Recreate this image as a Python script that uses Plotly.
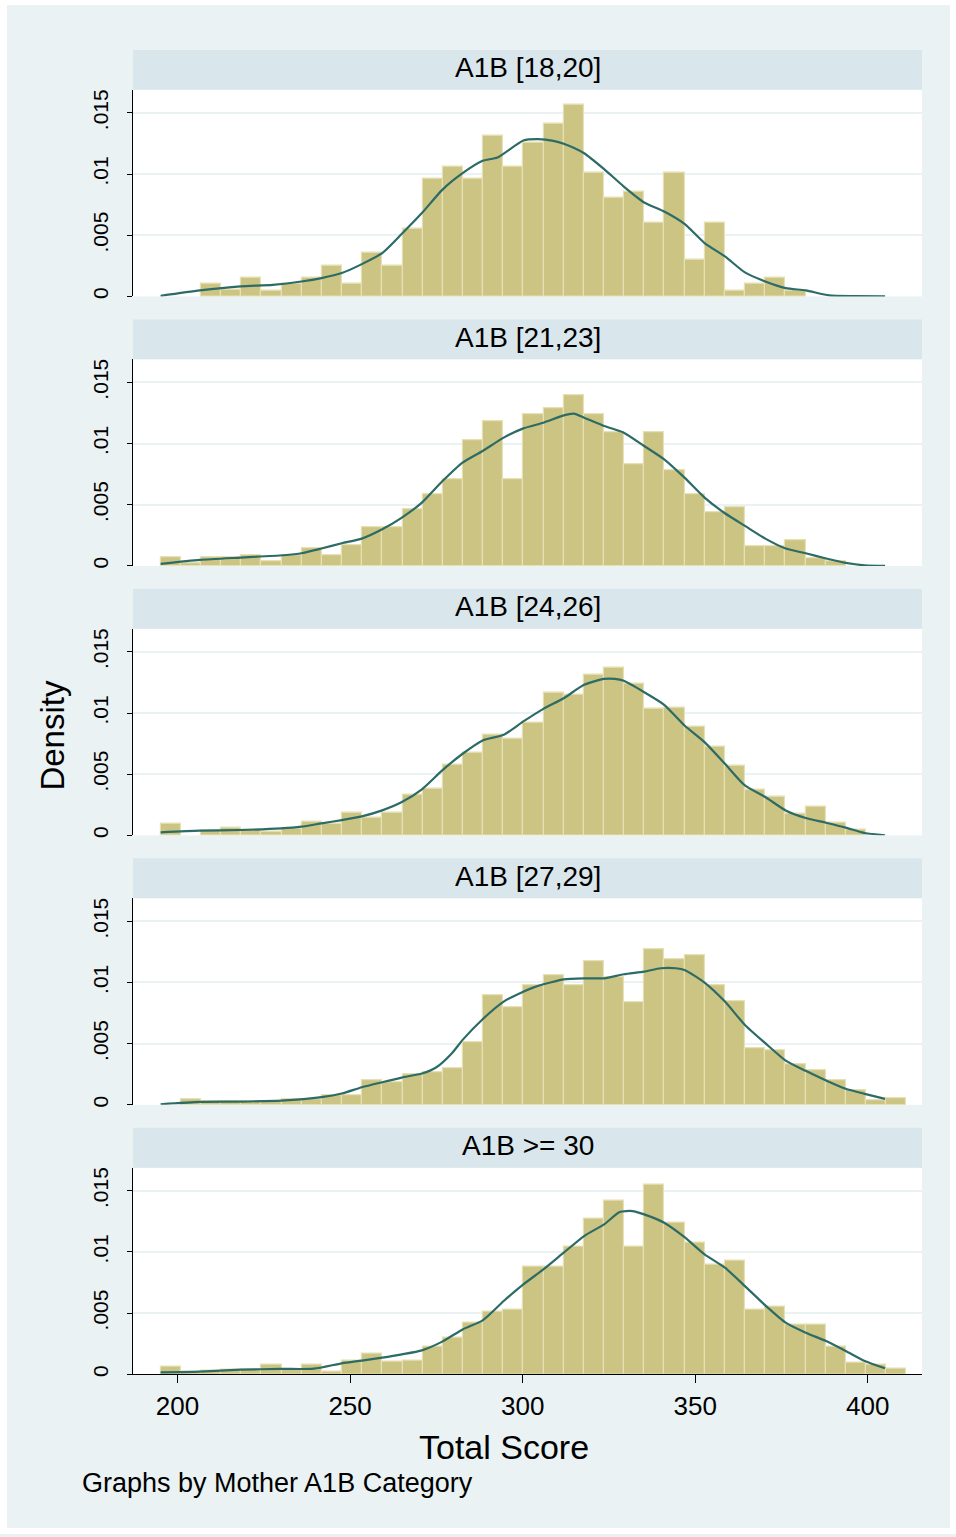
import plotly.graph_objects as go

W, H = 956, 1537

# ---------------- data ----------------
bin_start = 195.13
bin_width = 5.838
n_bins = 37

panel_titles = ["A1B [18,20]", "A1B [21,23]", "A1B [24,26]", "A1B [27,29]", "A1B >= 30"]

dens_1 = [0, 0, 0.00103, 0.00052, 0.00152, 0.00049, 0.00103, 0.00152, 0.00253, 0.00103,
          0.00354, 0.00253, 0.00553, 0.00958, 0.01056, 0.00958, 0.01309, 0.01056, 0.01258,
          0.01413, 0.01565, 0.01007, 0.00806, 0.00857, 0.00604, 0.01007, 0.00302, 0.00604,
          0.00049, 0.00103, 0.00152, 0.00049, 0, 0, 0, 0, 0]
dens_2 = [0.00071, 0.00019, 0.00071, 0.00071, 0.00087, 0.00038, 0.00087, 0.00142, 0.00087,
          0.00171, 0.00316, 0.00316, 0.00463, 0.00583, 0.00705, 0.01023, 0.01184, 0.00705,
          0.01236, 0.01290, 0.01396, 0.01236, 0.01094, 0.00827, 0.01094, 0.00778, 0.00583,
          0.00441, 0.00476, 0.00158, 0.00158, 0.00212, 0.00065, 0.00038, 0, 0, 0]
dens_3 = [0.00093, 0, 0.00038, 0.00065, 0.00049, 0.00033, 0.00054, 0.00109, 0.00093, 0.00185,
          0.00144, 0.00185, 0.00332, 0.00381, 0.00580, 0.00675, 0.00819, 0.00789, 0.00923,
          0.01162, 0.01146, 0.01315, 0.01369, 0.01241, 0.01032, 0.01040, 0.00885, 0.00727,
          0.00569, 0.00370, 0.00318, 0.00174, 0.00237, 0.00103, 0.00044, 0, 0]
dens_4 = [0, 0.00049, 0.00027, 0.00027, 0.00027, 0.00027, 0.00049, 0.00049, 0.00082, 0.00082,
          0.00199, 0.00182, 0.00250, 0.00267, 0.00299, 0.00512, 0.00893, 0.00795, 0.00974,
          0.01056, 0.00974, 0.01173, 0.01040, 0.00841, 0.01268, 0.01190, 0.01219, 0.00974,
          0.00844, 0.00460, 0.00444, 0.00332, 0.00283, 0.00199, 0.00120, 0.00038, 0.00052]
dens_5 = [0.00060, 0.00019, 0.00027, 0.00038, 0.00038, 0.00076, 0.00038, 0.00076, 0.00019,
          0.00114, 0.00166, 0.00101, 0.00112, 0.00223, 0.00297, 0.00425, 0.00512, 0.00531,
          0.00879, 0.00879, 0.01040, 0.01274, 0.01421, 0.01040, 0.01546, 0.01239, 0.01072,
          0.00893, 0.00928, 0.00531, 0.00550, 0.00403, 0.00403, 0.00223, 0.00093, 0.00076,
          0.00044]

kde_x_1 = [195.1, 206.5, 218.3, 227.6, 235.9, 241.7, 247.6, 253.4, 259.3, 265.0, 270.8, 276.7,
           282.6, 288.4, 292.7, 300.2, 304.5, 308.9, 311.9, 317.8, 323.6, 329.3, 335.2, 341.0,
           346.9, 352.7, 358.6, 364.4, 370.3, 376.2, 382.0, 388.8, 396.1, 405.0]
kde_y_1 = [0.00005, 0.00049, 0.00082, 0.00095, 0.00122, 0.00150, 0.00191, 0.00264, 0.00354,
           0.00512, 0.00681, 0.00871, 0.01007, 0.01108, 0.01135, 0.01274, 0.01285, 0.01271,
           0.01247, 0.01170, 0.01040, 0.00898, 0.00768, 0.00694, 0.00593, 0.00436, 0.00327,
           0.00196, 0.00122, 0.00068, 0.00049, 0.00008, 0.00002, 0.00001]

kde_x_2 = [195.1, 206.5, 218.3, 230.6, 235.9, 241.7, 247.6, 253.4, 259.3, 265.0, 270.8, 276.7,
           282.6, 288.4, 294.5, 300.2, 306.0, 311.9, 314.8, 317.8, 323.6, 329.3, 335.2, 341.0,
           346.9, 352.7, 358.6, 364.4, 370.3, 376.2, 382.0, 387.9, 393.6, 399.1, 405.0]
kde_y_2 = [0.00016, 0.00049, 0.00068, 0.00087, 0.00103, 0.00142, 0.00185, 0.00223, 0.00299,
           0.00395, 0.00517, 0.00691, 0.00844, 0.00939, 0.01048, 0.01124, 0.01170, 0.01230,
           0.01244, 0.01211, 0.01143, 0.01089, 0.00980, 0.00871, 0.00721, 0.00558, 0.00430,
           0.00327, 0.00223, 0.00142, 0.00103, 0.00060, 0.00024, 0.00005, 0.00001]

kde_x_3 = [195.1, 206.5, 218.3, 230.0, 235.9, 241.7, 247.6, 253.4, 259.3, 265.0, 270.8, 276.7,
           282.6, 288.4, 294.5, 300.2, 306.0, 311.9, 317.8, 323.6, 326.7, 329.3, 335.2, 341.0,
           346.9, 352.7, 358.6, 364.4, 370.3, 376.2, 382.0, 387.9, 393.6, 399.1, 405.0]
kde_y_3 = [0.00024, 0.00038, 0.00044, 0.00057, 0.00071, 0.00098, 0.00125, 0.00155, 0.00204,
           0.00272, 0.00376, 0.00531, 0.00667, 0.00776, 0.00822, 0.00931, 0.01034, 0.01121,
           0.01230, 0.01279, 0.01279, 0.01263, 0.01170, 0.01067, 0.00898, 0.00762, 0.00585,
           0.00408, 0.00313, 0.00204, 0.00142, 0.00103, 0.00063, 0.00019, 0.00001]

kde_x_4 = [195.1, 206.5, 218.3, 230.0, 241.7, 247.6, 253.4, 259.3, 265.0, 270.8, 274.9, 279.5,
           282.6, 288.4, 294.5, 298.6, 303.0, 306.0, 311.9, 317.8, 323.6, 329.3, 335.2, 340.0,
           344.4, 346.9, 352.7, 358.6, 364.4, 370.3, 376.2, 382.0, 387.9, 393.6, 399.1, 405.0]
kde_y_4 = [0.00005, 0.00024, 0.00027, 0.00035, 0.00063, 0.00093, 0.00144, 0.00185, 0.00223,
           0.00256, 0.00305, 0.00422, 0.00531, 0.00700, 0.00844, 0.00904, 0.00958, 0.00985,
           0.01026, 0.01034, 0.01034, 0.01067, 0.01089, 0.01116, 0.01116, 0.01102, 0.00999,
           0.00844, 0.00653, 0.00504, 0.00362, 0.00278, 0.00199, 0.00131, 0.00090, 0.00049]

kde_x_5 = [195.1, 206.5, 218.3, 230.0, 239.5, 247.6, 253.4, 259.3, 265.0, 270.8, 276.7, 282.6,
           288.4, 294.5, 300.2, 306.0, 311.9, 317.8, 323.6, 328.1, 331.8, 335.2, 341.0, 346.9,
           352.7, 358.6, 364.4, 370.3, 376.2, 382.0, 387.9, 393.6, 399.1, 405.0]
kde_y_5 = [0.00016, 0.00022, 0.00038, 0.00044, 0.00046, 0.00090, 0.00112, 0.00136, 0.00163,
           0.00196, 0.00267, 0.00367, 0.00441, 0.00599, 0.00735, 0.00857, 0.00994, 0.01130,
           0.01225, 0.01326, 0.01334, 0.01307, 0.01239, 0.01121, 0.00980, 0.00871, 0.00721,
           0.00563, 0.00422, 0.00340, 0.00272, 0.00191, 0.00109, 0.00049]

x_ticks = [200, 250, 300, 350, 400]
y_ticks = [0, 0.005, 0.01, 0.015]
y_tick_text = ["0", ".005", ".01", ".015"]

densities = [dens_1, dens_2, dens_3, dens_4, dens_5]
kde_xs = [kde_x_1, kde_x_2, kde_x_3, kde_x_4, kde_x_5]
kde_ys = [kde_y_1, kde_y_2, kde_y_3, kde_y_4, kde_y_5]

# ---------------- styling ----------------
FONT = "Liberation Sans, Arial, Helvetica, sans-serif"
BG = "#EAF2F3"
STRIP = "#D9E6EB"
BAR_FILL = "#CCC482"
BAR_LINE = "#E6E0B4"
KDE_COLOR = "#2C6B66"
GRID = "#EAF2F3"

X_LEFT, X_RIGHT = 133, 922
X_RANGE = [187.1, 415.7]
Y_RANGE = [0, 0.016883]


def px(x):
    return x / W


def py(y):
    return 1 - y / H


fig = go.Figure()
layout = {}
shapes = []
annotations = []

centers = [bin_start + bin_width * (k + 0.5) for k in range(n_bins)]

for i in range(5):
    top = 90 + 270 * i
    bottom = 297 + 270 * i
    xa = "x" if i == 0 else f"x{i+1}"
    ya = "y" if i == 0 else f"y{i+1}"
    xkey = "xaxis" if i == 0 else f"xaxis{i+1}"
    ykey = "yaxis" if i == 0 else f"yaxis{i+1}"

    bar_y = [v if v > 0 else None for v in densities[i]]
    fig.add_trace(go.Bar(
        x=centers, y=bar_y, width=[bin_width] * n_bins,
        marker=dict(color=BAR_FILL, line=dict(color=BAR_LINE, width=1.2)),
        xaxis=xa, yaxis=ya, showlegend=False, hoverinfo="x+y",
    ))
    fig.add_trace(go.Scatter(
        x=kde_xs[i], y=kde_ys[i], mode="lines",
        line=dict(color=KDE_COLOR, width=2.2, shape="spline", smoothing=0.6),
        xaxis=xa, yaxis=ya, showlegend=False,
    ))

    last = (i == 4)
    layout[xkey] = dict(
        domain=[px(X_LEFT), px(X_RIGHT)], range=X_RANGE, anchor=ya,
        showgrid=False, zeroline=False,
        showline=last, linecolor="black", linewidth=1,
        ticks="outside" if last else "", ticklen=8, tickcolor="black",
        tickvals=x_ticks, showticklabels=last,
        tickfont=dict(family=FONT, size=26, color="black"),
        matches=None if i == 0 else "x",
    )
    layout[ykey] = dict(
        domain=[py(bottom), py(top)], range=Y_RANGE, anchor=xa,
        showgrid=True, gridcolor=GRID, gridwidth=2, zeroline=False,
        showline=True, linecolor="black", linewidth=1,
        ticks="outside", ticklen=5, tickcolor="black",
        tickvals=y_ticks, ticktext=y_tick_text, tickangle=-90,
        tickfont=dict(family=FONT, size=21, color="black"),
        ticklabelstandoff=11,
    )

    # strip title
    shapes.append(dict(type="rect", xref="paper", yref="paper",
                       x0=px(X_LEFT), x1=px(X_RIGHT), y0=py(top), y1=py(top - 40),
                       fillcolor=STRIP, line=dict(width=0), layer="below"))
    annotations.append(dict(text=panel_titles[i], xref="paper", yref="paper",
                            x=px((X_LEFT + X_RIGHT) / 2), y=py(top - 22),
                            xanchor="center", yanchor="middle", showarrow=False,
                            font=dict(family=FONT, size=28, color="black")))

# outer white frame
for (x0, y0, x1, y1) in [(0, 0, 7, H), (950, 0, W, H), (0, 0, W, 5), (0, 1531, W, H)]:
    shapes.append(dict(type="rect", xref="paper", yref="paper",
                       x0=px(x0), x1=px(x1), y0=py(y1), y1=py(y0),
                       fillcolor="white", line=dict(width=0), layer="above"))

annotations.append(dict(text="Total Score", xref="paper", yref="paper",
                        x=px(504), y=py(1450), xanchor="center", yanchor="middle",
                        showarrow=False, font=dict(family=FONT, size=34, color="black")))
annotations.append(dict(text="Density", xref="paper", yref="paper",
                        x=px(53), y=py(737), xanchor="center", yanchor="middle",
                        textangle=-90, showarrow=False,
                        font=dict(family=FONT, size=33, color="black")))
annotations.append(dict(text="Graphs by Mother A1B Category", xref="paper", yref="paper",
                        x=px(80), y=py(1486), xanchor="left", yanchor="middle",
                        showarrow=False, font=dict(family=FONT, size=27, color="black")))

fig.update_layout(
    width=W, height=H, margin=dict(l=0, r=0, t=0, b=0),
    paper_bgcolor=BG, plot_bgcolor="white",
    bargap=0, shapes=shapes, annotations=annotations, showlegend=False,
    **layout,
)

fig.write_html(
    "out.html",
    config={"displayModeBar": False},
    post_script="document.body.style.margin='0';document.body.style.overflow='hidden';",
)
